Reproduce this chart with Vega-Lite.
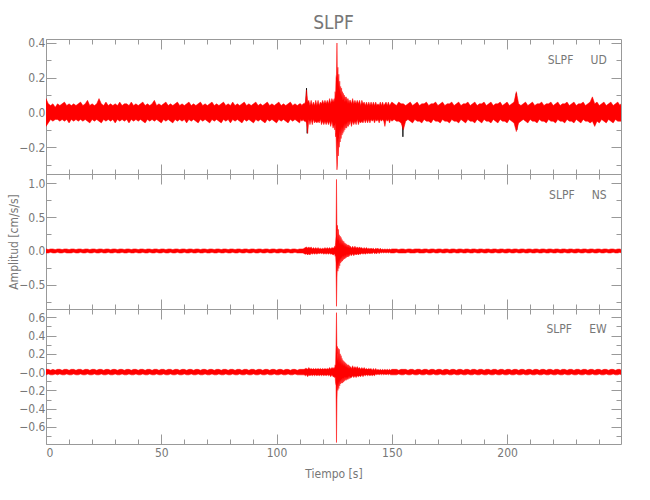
{
"$schema": "https://vega.github.io/schema/vega-lite/v6.json",
"padding": {"left": 7, "top": 13, "right": 5, "bottom": 5},
"title": {"text": "SLPF", "fontSize": 19, "color": "#777777", "font": "Liberation Sans Narrow, DejaVu Sans Condensed, sans-serif", "fontWeight": "normal", "anchor": "middle", "frame": "group", "offset": 4},
"config": {
  "view": {"stroke": null},
  "axis": {"domainColor": "#999999", "tickColor": "#999999", "labelColor": "#777777", "titleColor": "#777777", "labelFont": "Liberation Sans Narrow, DejaVu Sans Condensed, sans-serif", "titleFont": "Liberation Sans Narrow, DejaVu Sans Condensed, sans-serif", "labelFontSize": 12, "titleFontSize": 12, "titleFontWeight": "normal", "grid": false, "domainWidth": 1, "tickWidth": 1}
},
"spacing": 0,
"bounds": "flush",
"datasets": {
"k": [
{"t":0,"u":0},{"t":112.6,"u":0},{"t":113.0,"u":0.14},{"t":113.3,"u":-0.12},{"t":113.6,"u":0},{"t":154.5,"u":0},{"t":154.8,"u":-0.14},{"t":155.1,"u":0},{"t":203.8,"u":0},{"t":204.0,"u":0.11},{"t":204.2,"u":-0.10},{"t":204.5,"u":0},{"t":249,"u":0}
],
"s": [
{"t":0,"a":0.08,"b":-0.08,"c":0.03,"d":-0.03,"f":0.03,"g":-0.03},
{"t":1,"a":0.05,"b":-0.06,"c":0.02,"d":-0.03,"f":0.03,"g":-0.02},
{"t":2,"a":0.04,"b":-0.04,"c":0.03,"d":-0.02,"f":0.02,"g":-0.03},
{"t":3,"a":0.05,"b":-0.05,"c":0.03,"d":-0.03,"f":0.03,"g":-0.03},
{"t":4,"a":0.03,"b":-0.04,"c":0.02,"d":-0.03,"f":0.02,"g":-0.02},
{"t":5,"a":0.05,"b":-0.04,"c":0.03,"d":-0.02,"f":0.03,"g":-0.03},
{"t":6,"a":0.04,"b":-0.05,"c":0.03,"d":-0.03,"f":0.03,"g":-0.02},
{"t":7,"a":0.05,"b":-0.04,"c":0.02,"d":-0.03,"f":0.02,"g":-0.03},
{"t":8,"a":0.06,"b":-0.05,"c":0.03,"d":-0.02,"f":0.03,"g":-0.03},
{"t":9,"a":0.04,"b":-0.04,"c":0.03,"d":-0.03,"f":0.03,"g":-0.02},
{"t":10,"a":0.05,"b":-0.06,"c":0.02,"d":-0.03,"f":0.02,"g":-0.03},
{"t":11,"a":0.04,"b":-0.04,"c":0.03,"d":-0.03,"f":0.03,"g":-0.03},
{"t":12,"a":0.05,"b":-0.05,"c":0.03,"d":-0.02,"f":0.03,"g":-0.02},
{"t":13,"a":0.04,"b":-0.04,"c":0.02,"d":-0.03,"f":0.02,"g":-0.03},
{"t":14,"a":0.05,"b":-0.05,"c":0.03,"d":-0.03,"f":0.03,"g":-0.03},
{"t":15,"a":0.06,"b":-0.04,"c":0.03,"d":-0.02,"f":0.03,"g":-0.02},
{"t":16,"a":0.04,"b":-0.05,"c":0.02,"d":-0.03,"f":0.02,"g":-0.03},
{"t":17,"a":0.05,"b":-0.04,"c":0.03,"d":-0.03,"f":0.03,"g":-0.03},
{"t":18,"a":0.07,"b":-0.05,"c":0.03,"d":-0.02,"f":0.03,"g":-0.02},
{"t":19,"a":0.04,"b":-0.06,"c":0.02,"d":-0.03,"f":0.02,"g":-0.03},
{"t":20,"a":0.05,"b":-0.04,"c":0.03,"d":-0.03,"f":0.03,"g":-0.03},
{"t":21,"a":0.04,"b":-0.05,"c":0.03,"d":-0.02,"f":0.03,"g":-0.02},
{"t":22,"a":0.05,"b":-0.04,"c":0.02,"d":-0.03,"f":0.02,"g":-0.03},
{"t":23,"a":0.08,"b":-0.05,"c":0.03,"d":-0.03,"f":0.03,"g":-0.03},
{"t":24,"a":0.05,"b":-0.06,"c":0.03,"d":-0.02,"f":0.03,"g":-0.02},
{"t":25,"a":0.04,"b":-0.04,"c":0.02,"d":-0.03,"f":0.02,"g":-0.03},
{"t":26,"a":0.06,"b":-0.05,"c":0.03,"d":-0.03,"f":0.03,"g":-0.03},
{"t":27,"a":0.04,"b":-0.04,"c":0.03,"d":-0.02,"f":0.03,"g":-0.02},
{"t":28,"a":0.05,"b":-0.05,"c":0.02,"d":-0.03,"f":0.02,"g":-0.03},
{"t":29,"a":0.04,"b":-0.04,"c":0.03,"d":-0.03,"f":0.03,"g":-0.03},
{"t":30,"a":0.05,"b":-0.06,"c":0.03,"d":-0.02,"f":0.03,"g":-0.02},
{"t":31,"a":0.04,"b":-0.04,"c":0.02,"d":-0.03,"f":0.02,"g":-0.03},
{"t":32,"a":0.06,"b":-0.05,"c":0.03,"d":-0.03,"f":0.03,"g":-0.03},
{"t":33,"a":0.04,"b":-0.04,"c":0.03,"d":-0.02,"f":0.03,"g":-0.02},
{"t":34,"a":0.05,"b":-0.05,"c":0.02,"d":-0.03,"f":0.02,"g":-0.03},
{"t":35,"a":0.05,"b":-0.04,"c":0.03,"d":-0.03,"f":0.03,"g":-0.03},
{"t":36,"a":0.04,"b":-0.06,"c":0.03,"d":-0.02,"f":0.03,"g":-0.02},
{"t":37,"a":0.06,"b":-0.04,"c":0.02,"d":-0.03,"f":0.02,"g":-0.03},
{"t":38,"a":0.04,"b":-0.05,"c":0.03,"d":-0.03,"f":0.03,"g":-0.03},
{"t":39,"a":0.05,"b":-0.04,"c":0.03,"d":-0.02,"f":0.03,"g":-0.02},
{"t":40,"a":0.04,"b":-0.05,"c":0.02,"d":-0.03,"f":0.02,"g":-0.03},
{"t":41,"a":0.05,"b":-0.04,"c":0.03,"d":-0.03,"f":0.03,"g":-0.03},
{"t":42,"a":0.06,"b":-0.05,"c":0.03,"d":-0.02,"f":0.03,"g":-0.02},
{"t":43,"a":0.04,"b":-0.06,"c":0.02,"d":-0.03,"f":0.02,"g":-0.03},
{"t":44,"a":0.05,"b":-0.04,"c":0.03,"d":-0.03,"f":0.03,"g":-0.03},
{"t":45,"a":0.04,"b":-0.05,"c":0.03,"d":-0.02,"f":0.03,"g":-0.02},
{"t":46,"a":0.05,"b":-0.04,"c":0.02,"d":-0.03,"f":0.02,"g":-0.03},
{"t":47,"a":0.07,"b":-0.05,"c":0.03,"d":-0.03,"f":0.03,"g":-0.03},
{"t":48,"a":0.04,"b":-0.04,"c":0.03,"d":-0.02,"f":0.03,"g":-0.02},
{"t":49,"a":0.05,"b":-0.05,"c":0.02,"d":-0.03,"f":0.02,"g":-0.03},
{"t":50,"a":0.04,"b":-0.06,"c":0.03,"d":-0.03,"f":0.03,"g":-0.03},
{"t":51,"a":0.05,"b":-0.04,"c":0.03,"d":-0.02,"f":0.03,"g":-0.02},
{"t":52,"a":0.06,"b":-0.05,"c":0.02,"d":-0.03,"f":0.02,"g":-0.03},
{"t":53,"a":0.04,"b":-0.04,"c":0.03,"d":-0.03,"f":0.03,"g":-0.03},
{"t":54,"a":0.05,"b":-0.05,"c":0.03,"d":-0.02,"f":0.03,"g":-0.02},
{"t":55,"a":0.04,"b":-0.06,"c":0.02,"d":-0.03,"f":0.02,"g":-0.03},
{"t":56,"a":0.05,"b":-0.04,"c":0.03,"d":-0.03,"f":0.03,"g":-0.03},
{"t":57,"a":0.06,"b":-0.05,"c":0.03,"d":-0.02,"f":0.03,"g":-0.02},
{"t":58,"a":0.04,"b":-0.04,"c":0.02,"d":-0.03,"f":0.02,"g":-0.03},
{"t":59,"a":0.05,"b":-0.05,"c":0.03,"d":-0.03,"f":0.03,"g":-0.03},
{"t":60,"a":0.04,"b":-0.04,"c":0.03,"d":-0.02,"f":0.03,"g":-0.02},
{"t":61,"a":0.05,"b":-0.06,"c":0.02,"d":-0.03,"f":0.02,"g":-0.03},
{"t":62,"a":0.06,"b":-0.04,"c":0.03,"d":-0.03,"f":0.03,"g":-0.03},
{"t":63,"a":0.04,"b":-0.05,"c":0.03,"d":-0.02,"f":0.03,"g":-0.02},
{"t":64,"a":0.05,"b":-0.04,"c":0.02,"d":-0.03,"f":0.02,"g":-0.03},
{"t":65,"a":0.04,"b":-0.05,"c":0.03,"d":-0.03,"f":0.03,"g":-0.03},
{"t":66,"a":0.05,"b":-0.06,"c":0.03,"d":-0.02,"f":0.03,"g":-0.02},
{"t":67,"a":0.06,"b":-0.04,"c":0.02,"d":-0.03,"f":0.02,"g":-0.03},
{"t":68,"a":0.04,"b":-0.05,"c":0.03,"d":-0.03,"f":0.03,"g":-0.03},
{"t":69,"a":0.05,"b":-0.04,"c":0.03,"d":-0.02,"f":0.03,"g":-0.02},
{"t":70,"a":0.04,"b":-0.05,"c":0.02,"d":-0.03,"f":0.02,"g":-0.03},
{"t":71,"a":0.05,"b":-0.06,"c":0.03,"d":-0.03,"f":0.03,"g":-0.03},
{"t":72,"a":0.06,"b":-0.04,"c":0.03,"d":-0.02,"f":0.03,"g":-0.02},
{"t":73,"a":0.04,"b":-0.05,"c":0.02,"d":-0.03,"f":0.02,"g":-0.03},
{"t":74,"a":0.05,"b":-0.04,"c":0.03,"d":-0.03,"f":0.03,"g":-0.03},
{"t":75,"a":0.04,"b":-0.05,"c":0.03,"d":-0.02,"f":0.03,"g":-0.02},
{"t":76,"a":0.05,"b":-0.06,"c":0.02,"d":-0.03,"f":0.02,"g":-0.03},
{"t":77,"a":0.06,"b":-0.04,"c":0.03,"d":-0.03,"f":0.03,"g":-0.03},
{"t":78,"a":0.04,"b":-0.05,"c":0.03,"d":-0.02,"f":0.03,"g":-0.02},
{"t":79,"a":0.05,"b":-0.04,"c":0.02,"d":-0.03,"f":0.02,"g":-0.03},
{"t":80,"a":0.04,"b":-0.06,"c":0.03,"d":-0.03,"f":0.03,"g":-0.03},
{"t":81,"a":0.06,"b":-0.04,"c":0.03,"d":-0.02,"f":0.03,"g":-0.02},
{"t":82,"a":0.04,"b":-0.05,"c":0.02,"d":-0.03,"f":0.02,"g":-0.03},
{"t":83,"a":0.05,"b":-0.04,"c":0.03,"d":-0.03,"f":0.03,"g":-0.03},
{"t":84,"a":0.04,"b":-0.05,"c":0.03,"d":-0.02,"f":0.03,"g":-0.02},
{"t":85,"a":0.05,"b":-0.06,"c":0.02,"d":-0.03,"f":0.02,"g":-0.03},
{"t":86,"a":0.06,"b":-0.04,"c":0.03,"d":-0.03,"f":0.03,"g":-0.03},
{"t":87,"a":0.04,"b":-0.05,"c":0.03,"d":-0.02,"f":0.03,"g":-0.02},
{"t":88,"a":0.05,"b":-0.04,"c":0.02,"d":-0.03,"f":0.02,"g":-0.03},
{"t":89,"a":0.04,"b":-0.05,"c":0.03,"d":-0.03,"f":0.03,"g":-0.03},
{"t":90,"a":0.05,"b":-0.06,"c":0.03,"d":-0.02,"f":0.03,"g":-0.02},
{"t":91,"a":0.06,"b":-0.04,"c":0.02,"d":-0.03,"f":0.02,"g":-0.03},
{"t":92,"a":0.04,"b":-0.05,"c":0.03,"d":-0.03,"f":0.03,"g":-0.03},
{"t":93,"a":0.05,"b":-0.04,"c":0.03,"d":-0.02,"f":0.03,"g":-0.02},
{"t":94,"a":0.04,"b":-0.05,"c":0.02,"d":-0.03,"f":0.02,"g":-0.03},
{"t":95,"a":0.05,"b":-0.06,"c":0.03,"d":-0.03,"f":0.03,"g":-0.03},
{"t":96,"a":0.06,"b":-0.04,"c":0.03,"d":-0.02,"f":0.03,"g":-0.02},
{"t":97,"a":0.04,"b":-0.05,"c":0.02,"d":-0.03,"f":0.02,"g":-0.03},
{"t":98,"a":0.05,"b":-0.04,"c":0.03,"d":-0.03,"f":0.03,"g":-0.03},
{"t":99,"a":0.04,"b":-0.05,"c":0.03,"d":-0.02,"f":0.03,"g":-0.02},
{"t":100,"a":0.05,"b":-0.06,"c":0.02,"d":-0.03,"f":0.02,"g":-0.03},
{"t":101,"a":0.06,"b":-0.04,"c":0.03,"d":-0.03,"f":0.03,"g":-0.03},
{"t":102,"a":0.04,"b":-0.05,"c":0.03,"d":-0.02,"f":0.03,"g":-0.02},
{"t":103,"a":0.05,"b":-0.04,"c":0.02,"d":-0.03,"f":0.02,"g":-0.03},
{"t":104,"a":0.04,"b":-0.05,"c":0.03,"d":-0.03,"f":0.03,"g":-0.03},
{"t":105,"a":0.05,"b":-0.06,"c":0.03,"d":-0.02,"f":0.03,"g":-0.02},
{"t":106,"a":0.06,"b":-0.04,"c":0.02,"d":-0.03,"f":0.02,"g":-0.03},
{"t":107,"a":0.04,"b":-0.05,"c":0.03,"d":-0.03,"f":0.03,"g":-0.03},
{"t":108,"a":0.05,"b":-0.04,"c":0.03,"d":-0.02,"f":0.03,"g":-0.02},
{"t":109,"a":0.04,"b":-0.05,"c":0.02,"d":-0.03,"f":0.02,"g":-0.03},
{"t":110,"a":0.05,"b":-0.06,"c":0.03,"d":-0.03,"f":0.03,"g":-0.03},
{"t":110.5,"a":0.05,"b":-0.04,"c":0.03,"d":-0.03,"f":0.03,"g":-0.03},
{"t":111,"a":0.04,"b":-0.05,"c":0.03,"d":-0.03,"f":0.03,"g":-0.03},
{"t":111.5,"a":0.05,"b":-0.04,"c":0.03,"d":-0.03,"f":0.03,"g":-0.03},
{"t":112,"a":0.05,"b":-0.05,"c":0.04,"d":-0.04,"f":0.03,"g":-0.03},
{"t":112.5,"a":0.06,"b":-0.05,"c":0.05,"d":-0.05,"f":0.04,"g":-0.04},
{"t":113,"a":0.13,"b":-0.06,"c":0.06,"d":-0.04,"f":0.04,"g":-0.03},
{"t":113.5,"a":0.06,"b":-0.12,"c":0.04,"d":-0.06,"f":0.03,"g":-0.05},
{"t":114,"a":0.07,"b":-0.04,"c":0.06,"d":-0.04,"f":0.05,"g":-0.03},
{"t":114.5,"a":0.04,"b":-0.07,"c":0.04,"d":-0.06,"f":0.03,"g":-0.04},
{"t":115,"a":0.07,"b":-0.04,"c":0.06,"d":-0.03,"f":0.04,"g":-0.03},
{"t":115.5,"a":0.04,"b":-0.07,"c":0.03,"d":-0.05,"f":0.03,"g":-0.04},
{"t":116,"a":0.06,"b":-0.04,"c":0.05,"d":-0.03,"f":0.04,"g":-0.03},
{"t":116.5,"a":0.04,"b":-0.06,"c":0.03,"d":-0.05,"f":0.03,"g":-0.04},
{"t":117,"a":0.07,"b":-0.05,"c":0.05,"d":-0.03,"f":0.04,"g":-0.03},
{"t":117.5,"a":0.04,"b":-0.06,"c":0.03,"d":-0.05,"f":0.03,"g":-0.04},
{"t":118,"a":0.07,"b":-0.05,"c":0.05,"d":-0.03,"f":0.04,"g":-0.03},
{"t":118.5,"a":0.04,"b":-0.06,"c":0.03,"d":-0.04,"f":0.03,"g":-0.04},
{"t":119,"a":0.06,"b":-0.04,"c":0.04,"d":-0.03,"f":0.04,"g":-0.03},
{"t":119.5,"a":0.05,"b":-0.07,"c":0.03,"d":-0.04,"f":0.03,"g":-0.04},
{"t":120,"a":0.07,"b":-0.05,"c":0.04,"d":-0.03,"f":0.04,"g":-0.03},
{"t":120.5,"a":0.05,"b":-0.07,"c":0.03,"d":-0.05,"f":0.03,"g":-0.04},
{"t":121,"a":0.07,"b":-0.05,"c":0.05,"d":-0.03,"f":0.04,"g":-0.03},
{"t":121.5,"a":0.05,"b":-0.07,"c":0.03,"d":-0.05,"f":0.03,"g":-0.04},
{"t":122,"a":0.07,"b":-0.05,"c":0.05,"d":-0.03,"f":0.04,"g":-0.03},
{"t":122.5,"a":0.05,"b":-0.07,"c":0.03,"d":-0.05,"f":0.03,"g":-0.04},
{"t":123,"a":0.08,"b":-0.05,"c":0.05,"d":-0.03,"f":0.05,"g":-0.03},
{"t":123.5,"a":0.05,"b":-0.08,"c":0.03,"d":-0.05,"f":0.03,"g":-0.05},
{"t":124,"a":0.08,"b":-0.05,"c":0.05,"d":-0.04,"f":0.05,"g":-0.03},
{"t":124.5,"a":0.06,"b":-0.09,"c":0.04,"d":-0.06,"f":0.04,"g":-0.05},
{"t":125,"a":0.08,"b":-0.07,"c":0.05,"d":-0.05,"f":0.05,"g":-0.05},
{"t":125.2,"a":0.06,"b":-0.10,"c":0.07,"d":-0.04,"f":0.04,"g":-0.06},
{"t":125.4,"a":0.12,"b":-0.06,"c":0.05,"d":-0.08,"f":0.08,"g":-0.05},
{"t":125.6,"a":0.09,"b":-0.14,"c":0.12,"d":-0.06,"f":0.06,"g":-0.12},
{"t":125.8,"a":0.20,"b":-0.12,"c":0.22,"d":-0.18,"f":0.30,"g":-0.15},
{"t":126,"a":0.22,"b":-0.24,"c":1.06,"d":-0.82,"f":0.65,"g":-0.77},
{"t":126.2,"a":0.40,"b":-0.33,"c":0.30,"d":-0.40,"f":0.20,"g":-0.30},
{"t":126.4,"a":0.18,"b":-0.30,"c":0.38,"d":-0.18,"f":0.28,"g":-0.12},
{"t":126.6,"a":0.26,"b":-0.16,"c":0.15,"d":-0.30,"f":0.12,"g":-0.20},
{"t":126.8,"a":0.14,"b":-0.25,"c":0.32,"d":-0.14,"f":0.26,"g":-0.10},
{"t":127,"a":0.22,"b":-0.14,"c":0.14,"d":-0.26,"f":0.10,"g":-0.18},
{"t":127.2,"a":0.12,"b":-0.20,"c":0.24,"d":-0.12,"f":0.25,"g":-0.09},
{"t":127.4,"a":0.18,"b":-0.10,"c":0.10,"d":-0.22,"f":0.09,"g":-0.15},
{"t":127.6,"a":0.10,"b":-0.17,"c":0.22,"d":-0.10,"f":0.20,"g":-0.08},
{"t":127.8,"a":0.15,"b":-0.09,"c":0.09,"d":-0.18,"f":0.08,"g":-0.13},
{"t":128,"a":0.09,"b":-0.15,"c":0.20,"d":-0.09,"f":0.18,"g":-0.07},
{"t":128.2,"a":0.14,"b":-0.08,"c":0.08,"d":-0.16,"f":0.07,"g":-0.12},
{"t":128.4,"a":0.08,"b":-0.13,"c":0.17,"d":-0.08,"f":0.15,"g":-0.07},
{"t":128.6,"a":0.12,"b":-0.08,"c":0.08,"d":-0.15,"f":0.07,"g":-0.12},
{"t":128.8,"a":0.07,"b":-0.12,"c":0.15,"d":-0.07,"f":0.13,"g":-0.06},
{"t":129,"a":0.11,"b":-0.07,"c":0.07,"d":-0.13,"f":0.06,"g":-0.11},
{"t":129.2,"a":0.07,"b":-0.11,"c":0.14,"d":-0.07,"f":0.12,"g":-0.06},
{"t":129.4,"a":0.10,"b":-0.06,"c":0.06,"d":-0.12,"f":0.06,"g":-0.10},
{"t":129.6,"a":0.06,"b":-0.10,"c":0.12,"d":-0.06,"f":0.11,"g":-0.05},
{"t":129.8,"a":0.09,"b":-0.06,"c":0.06,"d":-0.11,"f":0.05,"g":-0.09},
{"t":130,"a":0.06,"b":-0.09,"c":0.11,"d":-0.06,"f":0.10,"g":-0.05},
{"t":130.2,"a":0.09,"b":-0.06,"c":0.05,"d":-0.10,"f":0.05,"g":-0.09},
{"t":130.4,"a":0.06,"b":-0.09,"c":0.10,"d":-0.05,"f":0.09,"g":-0.05},
{"t":130.6,"a":0.08,"b":-0.05,"c":0.05,"d":-0.09,"f":0.05,"g":-0.08},
{"t":130.8,"a":0.05,"b":-0.08,"c":0.09,"d":-0.05,"f":0.08,"g":-0.05},
{"t":131,"a":0.08,"b":-0.05,"c":0.05,"d":-0.09,"f":0.04,"g":-0.08},
{"t":131.2,"a":0.05,"b":-0.08,"c":0.09,"d":-0.05,"f":0.08,"g":-0.04},
{"t":131.4,"a":0.07,"b":-0.05,"c":0.05,"d":-0.08,"f":0.04,"g":-0.07},
{"t":131.6,"a":0.05,"b":-0.07,"c":0.08,"d":-0.04,"f":0.07,"g":-0.04},
{"t":131.8,"a":0.07,"b":-0.05,"c":0.04,"d":-0.07,"f":0.04,"g":-0.07},
{"t":132,"a":0.07,"b":-0.05,"c":0.07,"d":-0.04,"f":0.06,"g":-0.06},
{"t":132.5,"a":0.05,"b":-0.08,"c":0.04,"d":-0.07,"f":0.04,"g":-0.06},
{"t":133,"a":0.08,"b":-0.05,"c":0.07,"d":-0.04,"f":0.07,"g":-0.04},
{"t":133.5,"a":0.05,"b":-0.07,"c":0.04,"d":-0.07,"f":0.04,"g":-0.06},
{"t":134,"a":0.07,"b":-0.05,"c":0.07,"d":-0.04,"f":0.06,"g":-0.04},
{"t":134.5,"a":0.05,"b":-0.07,"c":0.04,"d":-0.06,"f":0.04,"g":-0.06},
{"t":135,"a":0.07,"b":-0.04,"c":0.06,"d":-0.04,"f":0.06,"g":-0.04},
{"t":135.5,"a":0.05,"b":-0.07,"c":0.04,"d":-0.06,"f":0.04,"g":-0.05},
{"t":136,"a":0.07,"b":-0.05,"c":0.06,"d":-0.04,"f":0.05,"g":-0.04},
{"t":136.5,"a":0.04,"b":-0.06,"c":0.04,"d":-0.05,"f":0.03,"g":-0.05},
{"t":137,"a":0.07,"b":-0.05,"c":0.05,"d":-0.03,"f":0.05,"g":-0.03},
{"t":137.5,"a":0.05,"b":-0.06,"c":0.03,"d":-0.05,"f":0.03,"g":-0.05},
{"t":138,"a":0.06,"b":-0.04,"c":0.05,"d":-0.03,"f":0.05,"g":-0.03},
{"t":138.5,"a":0.04,"b":-0.06,"c":0.03,"d":-0.05,"f":0.03,"g":-0.04},
{"t":139,"a":0.06,"b":-0.04,"c":0.05,"d":-0.03,"f":0.04,"g":-0.03},
{"t":139.5,"a":0.04,"b":-0.06,"c":0.03,"d":-0.04,"f":0.03,"g":-0.04},
{"t":140,"a":0.06,"b":-0.04,"c":0.04,"d":-0.03,"f":0.04,"g":-0.03},
{"t":140.5,"a":0.04,"b":-0.06,"c":0.03,"d":-0.04,"f":0.03,"g":-0.04},
{"t":141,"a":0.06,"b":-0.04,"c":0.04,"d":-0.03,"f":0.04,"g":-0.03},
{"t":141.5,"a":0.04,"b":-0.05,"c":0.03,"d":-0.04,"f":0.02,"g":-0.04},
{"t":142,"a":0.06,"b":-0.04,"c":0.04,"d":-0.02,"f":0.04,"g":-0.03},
{"t":142.5,"a":0.04,"b":-0.06,"c":0.02,"d":-0.04,"f":0.02,"g":-0.04},
{"t":143,"a":0.06,"b":-0.04,"c":0.04,"d":-0.03,"f":0.04,"g":-0.02},
{"t":143.5,"a":0.04,"b":-0.05,"c":0.03,"d":-0.04,"f":0.02,"g":-0.03},
{"t":144,"a":0.05,"b":-0.04,"c":0.04,"d":-0.02,"f":0.03,"g":-0.02},
{"t":144.5,"a":0.04,"b":-0.06,"c":0.02,"d":-0.04,"f":0.02,"g":-0.03},
{"t":145,"a":0.06,"b":-0.04,"c":0.04,"d":-0.02,"f":0.03,"g":-0.02},
{"t":145.5,"a":0.04,"b":-0.05,"c":0.02,"d":-0.03,"f":0.02,"g":-0.03},
{"t":146,"a":0.06,"b":-0.04,"c":0.03,"d":-0.02,"f":0.03,"g":-0.02},
{"t":146.5,"a":0.04,"b":-0.05,"c":0.02,"d":-0.03,"f":0.02,"g":-0.03},
{"t":147,"a":0.05,"b":-0.08,"c":0.03,"d":-0.02,"f":0.03,"g":-0.02},
{"t":147.5,"a":0.06,"b":-0.04,"c":0.02,"d":-0.03,"f":0.02,"g":-0.03},
{"t":148,"a":0.04,"b":-0.05,"c":0.03,"d":-0.02,"f":0.03,"g":-0.02},
{"t":148.5,"a":0.06,"b":-0.04,"c":0.02,"d":-0.03,"f":0.02,"g":-0.03},
{"t":149,"a":0.04,"b":-0.06,"c":0.03,"d":-0.02,"f":0.03,"g":-0.02},
{"t":149.5,"a":0.05,"b":-0.04,"c":0.02,"d":-0.03,"f":0.02,"g":-0.03},
{"t":150,"a":0.06,"b":-0.05,"c":0.03,"d":-0.03,"f":0.03,"g":-0.03},
{"t":151,"a":0.05,"b":-0.04,"c":0.03,"d":-0.03,"f":0.03,"g":-0.03},
{"t":152,"a":0.04,"b":-0.05,"c":0.03,"d":-0.02,"f":0.03,"g":-0.03},
{"t":153,"a":0.06,"b":-0.05,"c":0.02,"d":-0.03,"f":0.02,"g":-0.02},
{"t":154,"a":0.05,"b":-0.06,"c":0.03,"d":-0.03,"f":0.03,"g":-0.03},
{"t":155,"a":0.05,"b":-0.10,"c":0.03,"d":-0.03,"f":0.03,"g":-0.03},
{"t":156,"a":0.04,"b":-0.05,"c":0.02,"d":-0.03,"f":0.03,"g":-0.02},
{"t":157,"a":0.05,"b":-0.04,"c":0.03,"d":-0.02,"f":0.02,"g":-0.03},
{"t":158,"a":0.06,"b":-0.05,"c":0.03,"d":-0.03,"f":0.03,"g":-0.03},
{"t":159,"a":0.04,"b":-0.06,"c":0.02,"d":-0.03,"f":0.03,"g":-0.02},
{"t":160,"a":0.05,"b":-0.04,"c":0.03,"d":-0.03,"f":0.02,"g":-0.03},
{"t":161,"a":0.06,"b":-0.05,"c":0.03,"d":-0.02,"f":0.03,"g":-0.03},
{"t":162,"a":0.04,"b":-0.05,"c":0.03,"d":-0.03,"f":0.03,"g":-0.02},
{"t":163,"a":0.05,"b":-0.06,"c":0.02,"d":-0.03,"f":0.02,"g":-0.03},
{"t":164,"a":0.05,"b":-0.04,"c":0.03,"d":-0.03,"f":0.03,"g":-0.03},
{"t":165,"a":0.06,"b":-0.05,"c":0.03,"d":-0.02,"f":0.03,"g":-0.02},
{"t":166,"a":0.04,"b":-0.05,"c":0.02,"d":-0.03,"f":0.02,"g":-0.03},
{"t":167,"a":0.05,"b":-0.06,"c":0.03,"d":-0.03,"f":0.03,"g":-0.03},
{"t":168,"a":0.05,"b":-0.04,"c":0.03,"d":-0.02,"f":0.03,"g":-0.02},
{"t":169,"a":0.06,"b":-0.05,"c":0.02,"d":-0.03,"f":0.02,"g":-0.03},
{"t":170,"a":0.04,"b":-0.05,"c":0.03,"d":-0.03,"f":0.03,"g":-0.03},
{"t":171,"a":0.05,"b":-0.06,"c":0.03,"d":-0.02,"f":0.03,"g":-0.02},
{"t":172,"a":0.06,"b":-0.04,"c":0.02,"d":-0.03,"f":0.02,"g":-0.03},
{"t":173,"a":0.04,"b":-0.05,"c":0.03,"d":-0.03,"f":0.03,"g":-0.03},
{"t":174,"a":0.05,"b":-0.05,"c":0.03,"d":-0.02,"f":0.03,"g":-0.02},
{"t":175,"a":0.05,"b":-0.06,"c":0.02,"d":-0.03,"f":0.02,"g":-0.03},
{"t":176,"a":0.06,"b":-0.04,"c":0.03,"d":-0.03,"f":0.03,"g":-0.03},
{"t":177,"a":0.04,"b":-0.05,"c":0.03,"d":-0.02,"f":0.03,"g":-0.02},
{"t":178,"a":0.05,"b":-0.05,"c":0.02,"d":-0.03,"f":0.02,"g":-0.03},
{"t":179,"a":0.06,"b":-0.06,"c":0.03,"d":-0.03,"f":0.03,"g":-0.03},
{"t":180,"a":0.04,"b":-0.04,"c":0.03,"d":-0.02,"f":0.03,"g":-0.02},
{"t":181,"a":0.05,"b":-0.05,"c":0.02,"d":-0.03,"f":0.02,"g":-0.03},
{"t":182,"a":0.05,"b":-0.06,"c":0.03,"d":-0.03,"f":0.03,"g":-0.03},
{"t":183,"a":0.06,"b":-0.04,"c":0.03,"d":-0.02,"f":0.03,"g":-0.02},
{"t":184,"a":0.04,"b":-0.05,"c":0.02,"d":-0.03,"f":0.02,"g":-0.03},
{"t":185,"a":0.05,"b":-0.05,"c":0.03,"d":-0.03,"f":0.03,"g":-0.03},
{"t":186,"a":0.06,"b":-0.06,"c":0.03,"d":-0.02,"f":0.03,"g":-0.02},
{"t":187,"a":0.04,"b":-0.04,"c":0.02,"d":-0.03,"f":0.02,"g":-0.03},
{"t":188,"a":0.05,"b":-0.05,"c":0.03,"d":-0.03,"f":0.03,"g":-0.03},
{"t":189,"a":0.05,"b":-0.06,"c":0.03,"d":-0.02,"f":0.03,"g":-0.02},
{"t":190,"a":0.06,"b":-0.04,"c":0.02,"d":-0.03,"f":0.02,"g":-0.03},
{"t":191,"a":0.04,"b":-0.05,"c":0.03,"d":-0.03,"f":0.03,"g":-0.03},
{"t":192,"a":0.05,"b":-0.05,"c":0.03,"d":-0.02,"f":0.03,"g":-0.02},
{"t":193,"a":0.06,"b":-0.06,"c":0.02,"d":-0.03,"f":0.02,"g":-0.03},
{"t":194,"a":0.04,"b":-0.04,"c":0.03,"d":-0.03,"f":0.03,"g":-0.03},
{"t":195,"a":0.05,"b":-0.05,"c":0.03,"d":-0.02,"f":0.03,"g":-0.02},
{"t":196,"a":0.05,"b":-0.06,"c":0.02,"d":-0.03,"f":0.02,"g":-0.03},
{"t":197,"a":0.06,"b":-0.04,"c":0.03,"d":-0.03,"f":0.03,"g":-0.03},
{"t":198,"a":0.04,"b":-0.05,"c":0.03,"d":-0.02,"f":0.03,"g":-0.02},
{"t":199,"a":0.05,"b":-0.05,"c":0.02,"d":-0.03,"f":0.02,"g":-0.03},
{"t":200,"a":0.06,"b":-0.06,"c":0.03,"d":-0.03,"f":0.03,"g":-0.03},
{"t":201,"a":0.04,"b":-0.04,"c":0.03,"d":-0.02,"f":0.03,"g":-0.02},
{"t":202,"a":0.05,"b":-0.05,"c":0.02,"d":-0.03,"f":0.02,"g":-0.03},
{"t":203,"a":0.06,"b":-0.06,"c":0.03,"d":-0.03,"f":0.03,"g":-0.03},
{"t":204,"a":0.12,"b":-0.11,"c":0.03,"d":-0.02,"f":0.03,"g":-0.02},
{"t":205,"a":0.05,"b":-0.06,"c":0.02,"d":-0.03,"f":0.02,"g":-0.03},
{"t":206,"a":0.04,"b":-0.05,"c":0.03,"d":-0.03,"f":0.03,"g":-0.03},
{"t":207,"a":0.05,"b":-0.04,"c":0.03,"d":-0.02,"f":0.03,"g":-0.02},
{"t":208,"a":0.06,"b":-0.05,"c":0.02,"d":-0.03,"f":0.02,"g":-0.03},
{"t":209,"a":0.04,"b":-0.06,"c":0.03,"d":-0.03,"f":0.03,"g":-0.03},
{"t":210,"a":0.05,"b":-0.04,"c":0.03,"d":-0.02,"f":0.03,"g":-0.02},
{"t":211,"a":0.06,"b":-0.05,"c":0.02,"d":-0.03,"f":0.02,"g":-0.03},
{"t":212,"a":0.04,"b":-0.05,"c":0.03,"d":-0.03,"f":0.03,"g":-0.03},
{"t":213,"a":0.05,"b":-0.06,"c":0.03,"d":-0.02,"f":0.03,"g":-0.02},
{"t":214,"a":0.05,"b":-0.04,"c":0.02,"d":-0.03,"f":0.02,"g":-0.03},
{"t":215,"a":0.06,"b":-0.05,"c":0.03,"d":-0.03,"f":0.03,"g":-0.03},
{"t":216,"a":0.04,"b":-0.05,"c":0.03,"d":-0.02,"f":0.03,"g":-0.02},
{"t":217,"a":0.05,"b":-0.06,"c":0.02,"d":-0.03,"f":0.02,"g":-0.03},
{"t":218,"a":0.05,"b":-0.04,"c":0.03,"d":-0.03,"f":0.03,"g":-0.03},
{"t":219,"a":0.06,"b":-0.05,"c":0.03,"d":-0.02,"f":0.03,"g":-0.02},
{"t":220,"a":0.04,"b":-0.05,"c":0.02,"d":-0.03,"f":0.02,"g":-0.03},
{"t":221,"a":0.05,"b":-0.06,"c":0.03,"d":-0.03,"f":0.03,"g":-0.03},
{"t":222,"a":0.06,"b":-0.04,"c":0.03,"d":-0.02,"f":0.03,"g":-0.02},
{"t":223,"a":0.04,"b":-0.05,"c":0.02,"d":-0.03,"f":0.02,"g":-0.03},
{"t":224,"a":0.05,"b":-0.05,"c":0.03,"d":-0.03,"f":0.03,"g":-0.03},
{"t":225,"a":0.05,"b":-0.06,"c":0.03,"d":-0.02,"f":0.03,"g":-0.02},
{"t":226,"a":0.06,"b":-0.04,"c":0.02,"d":-0.03,"f":0.02,"g":-0.03},
{"t":227,"a":0.04,"b":-0.05,"c":0.03,"d":-0.03,"f":0.03,"g":-0.03},
{"t":228,"a":0.05,"b":-0.05,"c":0.03,"d":-0.02,"f":0.03,"g":-0.02},
{"t":229,"a":0.06,"b":-0.06,"c":0.02,"d":-0.03,"f":0.02,"g":-0.03},
{"t":230,"a":0.04,"b":-0.04,"c":0.03,"d":-0.03,"f":0.03,"g":-0.03},
{"t":231,"a":0.05,"b":-0.05,"c":0.03,"d":-0.02,"f":0.03,"g":-0.02},
{"t":232,"a":0.05,"b":-0.06,"c":0.02,"d":-0.03,"f":0.02,"g":-0.03},
{"t":233,"a":0.06,"b":-0.04,"c":0.03,"d":-0.03,"f":0.03,"g":-0.03},
{"t":234,"a":0.04,"b":-0.05,"c":0.03,"d":-0.02,"f":0.03,"g":-0.02},
{"t":235,"a":0.05,"b":-0.05,"c":0.02,"d":-0.03,"f":0.02,"g":-0.03},
{"t":236,"a":0.06,"b":-0.06,"c":0.03,"d":-0.03,"f":0.03,"g":-0.03},
{"t":237,"a":0.09,"b":-0.05,"c":0.03,"d":-0.02,"f":0.03,"g":-0.02},
{"t":238,"a":0.05,"b":-0.08,"c":0.02,"d":-0.03,"f":0.02,"g":-0.03},
{"t":239,"a":0.06,"b":-0.05,"c":0.03,"d":-0.03,"f":0.03,"g":-0.03},
{"t":240,"a":0.04,"b":-0.06,"c":0.03,"d":-0.02,"f":0.03,"g":-0.02},
{"t":241,"a":0.05,"b":-0.04,"c":0.02,"d":-0.03,"f":0.02,"g":-0.03},
{"t":242,"a":0.06,"b":-0.05,"c":0.03,"d":-0.03,"f":0.03,"g":-0.03},
{"t":243,"a":0.04,"b":-0.06,"c":0.03,"d":-0.02,"f":0.03,"g":-0.02},
{"t":244,"a":0.05,"b":-0.04,"c":0.02,"d":-0.03,"f":0.02,"g":-0.03},
{"t":245,"a":0.06,"b":-0.05,"c":0.03,"d":-0.03,"f":0.03,"g":-0.03},
{"t":246,"a":0.04,"b":-0.06,"c":0.03,"d":-0.02,"f":0.03,"g":-0.02},
{"t":247,"a":0.05,"b":-0.04,"c":0.02,"d":-0.03,"f":0.02,"g":-0.03},
{"t":248,"a":0.06,"b":-0.05,"c":0.03,"d":-0.03,"f":0.03,"g":-0.03},
{"t":249,"a":0.04,"b":-0.05,"c":0.03,"d":-0.02,"f":0.03,"g":-0.02},
{"t":249.4,"a":0.05,"b":-0.05,"c":0.02,"d":-0.03,"f":0.02,"g":-0.03}
]},
"vconcat": [
{
  "width": 575, "height": 135,
  "layer": [
    {"data": {"name": "k"},
     "mark": {"type": "line", "color": "#000000", "strokeWidth": 0.8, "clip": true},
     "encoding": {
       "x": {"field": "t", "type": "quantitative", "scale": {"domain": [0, 249.4], "nice": false, "zero": false}, "axis": null},
       "y": {"field": "u", "type": "quantitative", "scale": {"domain": [-0.354, 0.423], "nice": false, "zero": false}, "axis": null}
     }},
    {"data": {"name": "s"},
     "mark": {"type": "area", "color": "#ff0000", "stroke": "#ff0000", "strokeWidth": 0.5, "clip": true},
     "encoding": {
       "x": {"field": "t", "type": "quantitative", "scale": {"domain": [0, 249.4], "nice": false, "zero": false}, "axis": {"orient": "bottom", "values": [0, 50, 100, 150, 200], "tickSize": -10, "labels": false, "title": null}},
       "y": {"field": "a", "type": "quantitative", "scale": {"domain": [-0.354, 0.423], "nice": false, "zero": false}, "axis": {"orient": "left", "values": [-0.2, 0, 0.2, 0.4], "format": ".1f", "tickSize": -10, "labelPadding": 11, "title": null}},
       "y2": {"field": "b"}
     }},
    {"data": {"values": [{}]},
     "mark": {"type": "point", "opacity": 0},
     "encoding": {
       "x": {"datum": 0, "type": "quantitative", "scale": {"domain": [0, 249.4], "nice": false, "zero": false}, "axis": {"orient": "bottom", "values": [10, 20, 30, 40, 60, 70, 80, 90, 110, 120, 130, 140, 160, 170, 180, 190, 210, 220, 230, 240], "tickSize": -5, "labels": false, "domain": false, "title": null}},
       "y": {"datum": 0, "type": "quantitative", "scale": {"domain": [-0.354, 0.423], "nice": false, "zero": false}, "axis": {"orient": "left", "values": [-0.3, -0.1, 0.1, 0.3], "tickSize": -5, "labels": false, "domain": false, "title": null}}
     }},
    {"data": {"values": [{}]},
     "mark": {"type": "point", "opacity": 0},
     "encoding": {
       "x": {"datum": 0, "type": "quantitative", "scale": {"domain": [0, 249.4], "nice": false, "zero": false}, "axis": {"orient": "top", "values": [0, 50, 100, 150, 200], "tickSize": -10, "labels": false, "title": null}},
       "y": {"datum": 0, "type": "quantitative", "scale": {"domain": [-0.354, 0.423], "nice": false, "zero": false}, "axis": {"orient": "right", "values": [-0.2, 0, 0.2, 0.4], "tickSize": -10, "labels": false, "title": null}}
     }},
    {"data": {"values": [{}]},
     "mark": {"type": "point", "opacity": 0},
     "encoding": {
       "x": {"datum": 0, "type": "quantitative", "scale": {"domain": [0, 249.4], "nice": false, "zero": false}, "axis": {"orient": "top", "values": [10, 20, 30, 40, 60, 70, 80, 90, 110, 120, 130, 140, 160, 170, 180, 190, 210, 220, 230, 240], "tickSize": -5, "labels": false, "domain": false, "title": null}},
       "y": {"datum": 0, "type": "quantitative", "scale": {"domain": [-0.354, 0.423], "nice": false, "zero": false}, "axis": {"orient": "right", "values": [-0.3, -0.1, 0.1, 0.3], "tickSize": -5, "labels": false, "domain": false, "title": null}}
     }},
    {"data": {"values": [{}]},
     "mark": {"type": "text", "align": "right", "baseline": "middle", "font": "Liberation Sans Narrow, DejaVu Sans Condensed, sans-serif", "fontSize": 12, "color": "#777777"},
     "encoding": {
       "x": {"datum": 243.2, "type": "quantitative", "scale": {"domain": [0, 249.4], "nice": false, "zero": false}, "axis": null},
       "y": {"datum": 0.304, "type": "quantitative", "scale": {"domain": [-0.354, 0.423], "nice": false, "zero": false}, "axis": null},
       "text": {"value": "SLPF\u00a0\u00a0\u00a0\u00a0\u00a0UD"}
     }}
  ],
  "resolve": {"axis": {"x": "independent", "y": "independent"}}
},
{
  "width": 575, "height": 135,
  "layer": [
    {"data": {"name": "s"},
     "mark": {"type": "area", "color": "#ff0000", "stroke": "#ff0000", "strokeWidth": 0.5, "clip": true},
     "encoding": {
       "x": {"field": "t", "type": "quantitative", "scale": {"domain": [0, 249.4], "nice": false, "zero": false}, "axis": {"orient": "bottom", "values": [0, 50, 100, 150, 200], "tickSize": -10, "labels": false, "title": null}},
       "y": {"field": "c", "type": "quantitative", "scale": {"domain": [-0.86, 1.14], "nice": false, "zero": false}, "axis": {"orient": "left", "values": [-0.5, 0, 0.5, 1.0], "format": ".1f", "tickSize": -10, "labelPadding": 11, "title": "Amplitud [cm/s/s]", "titlePadding": -2}},
       "y2": {"field": "d"}
     }},
    {"data": {"values": [{}]},
     "mark": {"type": "point", "opacity": 0},
     "encoding": {
       "x": {"datum": 0, "type": "quantitative", "scale": {"domain": [0, 249.4], "nice": false, "zero": false}, "axis": {"orient": "bottom", "values": [10, 20, 30, 40, 60, 70, 80, 90, 110, 120, 130, 140, 160, 170, 180, 190, 210, 220, 230, 240], "tickSize": -5, "labels": false, "domain": false, "title": null}},
       "y": {"datum": 0, "type": "quantitative", "scale": {"domain": [-0.86, 1.14], "nice": false, "zero": false}, "axis": {"orient": "left", "values": [-0.75, -0.25, 0.25, 0.75], "tickSize": -5, "labels": false, "domain": false, "title": null}}
     }},
    {"data": {"values": [{}]},
     "mark": {"type": "point", "opacity": 0},
     "encoding": {
       "x": {"datum": 0, "type": "quantitative", "scale": {"domain": [0, 249.4], "nice": false, "zero": false}, "axis": {"orient": "top", "values": [0, 50, 100, 150, 200], "tickSize": -10, "labels": false, "title": null}},
       "y": {"datum": 0, "type": "quantitative", "scale": {"domain": [-0.86, 1.14], "nice": false, "zero": false}, "axis": {"orient": "right", "values": [-0.5, 0, 0.5, 1.0], "tickSize": -10, "labels": false, "title": null}}
     }},
    {"data": {"values": [{}]},
     "mark": {"type": "point", "opacity": 0},
     "encoding": {
       "x": {"datum": 0, "type": "quantitative", "scale": {"domain": [0, 249.4], "nice": false, "zero": false}, "axis": {"orient": "top", "values": [10, 20, 30, 40, 60, 70, 80, 90, 110, 120, 130, 140, 160, 170, 180, 190, 210, 220, 230, 240], "tickSize": -5, "labels": false, "domain": false, "title": null}},
       "y": {"datum": 0, "type": "quantitative", "scale": {"domain": [-0.86, 1.14], "nice": false, "zero": false}, "axis": {"orient": "right", "values": [-0.75, -0.25, 0.25, 0.75], "tickSize": -5, "labels": false, "domain": false, "title": null}}
     }},
    {"data": {"values": [{}]},
     "mark": {"type": "text", "align": "right", "baseline": "middle", "font": "Liberation Sans Narrow, DejaVu Sans Condensed, sans-serif", "fontSize": 12, "color": "#777777"},
     "encoding": {
       "x": {"datum": 243.2, "type": "quantitative", "scale": {"domain": [0, 249.4], "nice": false, "zero": false}, "axis": null},
       "y": {"datum": 0.827, "type": "quantitative", "scale": {"domain": [-0.86, 1.14], "nice": false, "zero": false}, "axis": null},
       "text": {"value": "SLPF\u00a0\u00a0\u00a0\u00a0\u00a0NS"}
     }}
  ],
  "resolve": {"axis": {"x": "independent", "y": "independent"}}
},
{
  "width": 575, "height": 135,
  "layer": [
    {"data": {"name": "s"},
     "mark": {"type": "area", "color": "#ff0000", "stroke": "#ff0000", "strokeWidth": 0.5, "clip": true},
     "encoding": {
       "x": {"field": "t", "type": "quantitative", "scale": {"domain": [0, 249.4], "nice": false, "zero": false}, "axis": {"orient": "bottom", "values": [0, 50, 100, 150, 200], "tickSize": -10, "labelPadding": 13, "title": "Tiempo [s]", "titlePadding": 10}},
       "y": {"field": "f", "type": "quantitative", "scale": {"domain": [-0.786, 0.69], "nice": false, "zero": false}, "axis": {"orient": "left", "values": [-0.6, -0.4, -0.2, 0, 0.2, 0.4, 0.6], "format": ".1f", "labelExpr": "datum.value == 0 ? '\u22120.0' : datum.label", "tickSize": -10, "labelPadding": 11, "title": null}},
       "y2": {"field": "g"}
     }},
    {"data": {"values": [{}]},
     "mark": {"type": "point", "opacity": 0},
     "encoding": {
       "x": {"datum": 0, "type": "quantitative", "scale": {"domain": [0, 249.4], "nice": false, "zero": false}, "axis": {"orient": "bottom", "values": [10, 20, 30, 40, 60, 70, 80, 90, 110, 120, 130, 140, 160, 170, 180, 190, 210, 220, 230, 240], "tickSize": -5, "labels": false, "domain": false, "title": null}},
       "y": {"datum": 0, "type": "quantitative", "scale": {"domain": [-0.786, 0.69], "nice": false, "zero": false}, "axis": {"orient": "left", "values": [-0.7, -0.5, -0.3, -0.1, 0.1, 0.3, 0.5], "tickSize": -5, "labels": false, "domain": false, "title": null}}
     }},
    {"data": {"values": [{}]},
     "mark": {"type": "point", "opacity": 0},
     "encoding": {
       "x": {"datum": 0, "type": "quantitative", "scale": {"domain": [0, 249.4], "nice": false, "zero": false}, "axis": {"orient": "top", "values": [0, 50, 100, 150, 200], "tickSize": -10, "labels": false, "title": null}},
       "y": {"datum": 0, "type": "quantitative", "scale": {"domain": [-0.786, 0.69], "nice": false, "zero": false}, "axis": {"orient": "right", "values": [-0.6, -0.4, -0.2, 0, 0.2, 0.4, 0.6], "tickSize": -10, "labels": false, "title": null}}
     }},
    {"data": {"values": [{}]},
     "mark": {"type": "point", "opacity": 0},
     "encoding": {
       "x": {"datum": 0, "type": "quantitative", "scale": {"domain": [0, 249.4], "nice": false, "zero": false}, "axis": {"orient": "top", "values": [10, 20, 30, 40, 60, 70, 80, 90, 110, 120, 130, 140, 160, 170, 180, 190, 210, 220, 230, 240], "tickSize": -5, "labels": false, "domain": false, "title": null}},
       "y": {"datum": 0, "type": "quantitative", "scale": {"domain": [-0.786, 0.69], "nice": false, "zero": false}, "axis": {"orient": "right", "values": [-0.7, -0.5, -0.3, -0.1, 0.1, 0.3, 0.5], "tickSize": -5, "labels": false, "domain": false, "title": null}}
     }},
    {"data": {"values": [{}]},
     "mark": {"type": "text", "align": "right", "baseline": "middle", "font": "Liberation Sans Narrow, DejaVu Sans Condensed, sans-serif", "fontSize": 12, "color": "#777777"},
     "encoding": {
       "x": {"datum": 243.2, "type": "quantitative", "scale": {"domain": [0, 249.4], "nice": false, "zero": false}, "axis": null},
       "y": {"datum": 0.472, "type": "quantitative", "scale": {"domain": [-0.786, 0.69], "nice": false, "zero": false}, "axis": null},
       "text": {"value": "SLPF\u00a0\u00a0\u00a0\u00a0\u00a0EW"}
     }}
  ],
  "resolve": {"axis": {"x": "independent", "y": "independent"}}
}
]
}
